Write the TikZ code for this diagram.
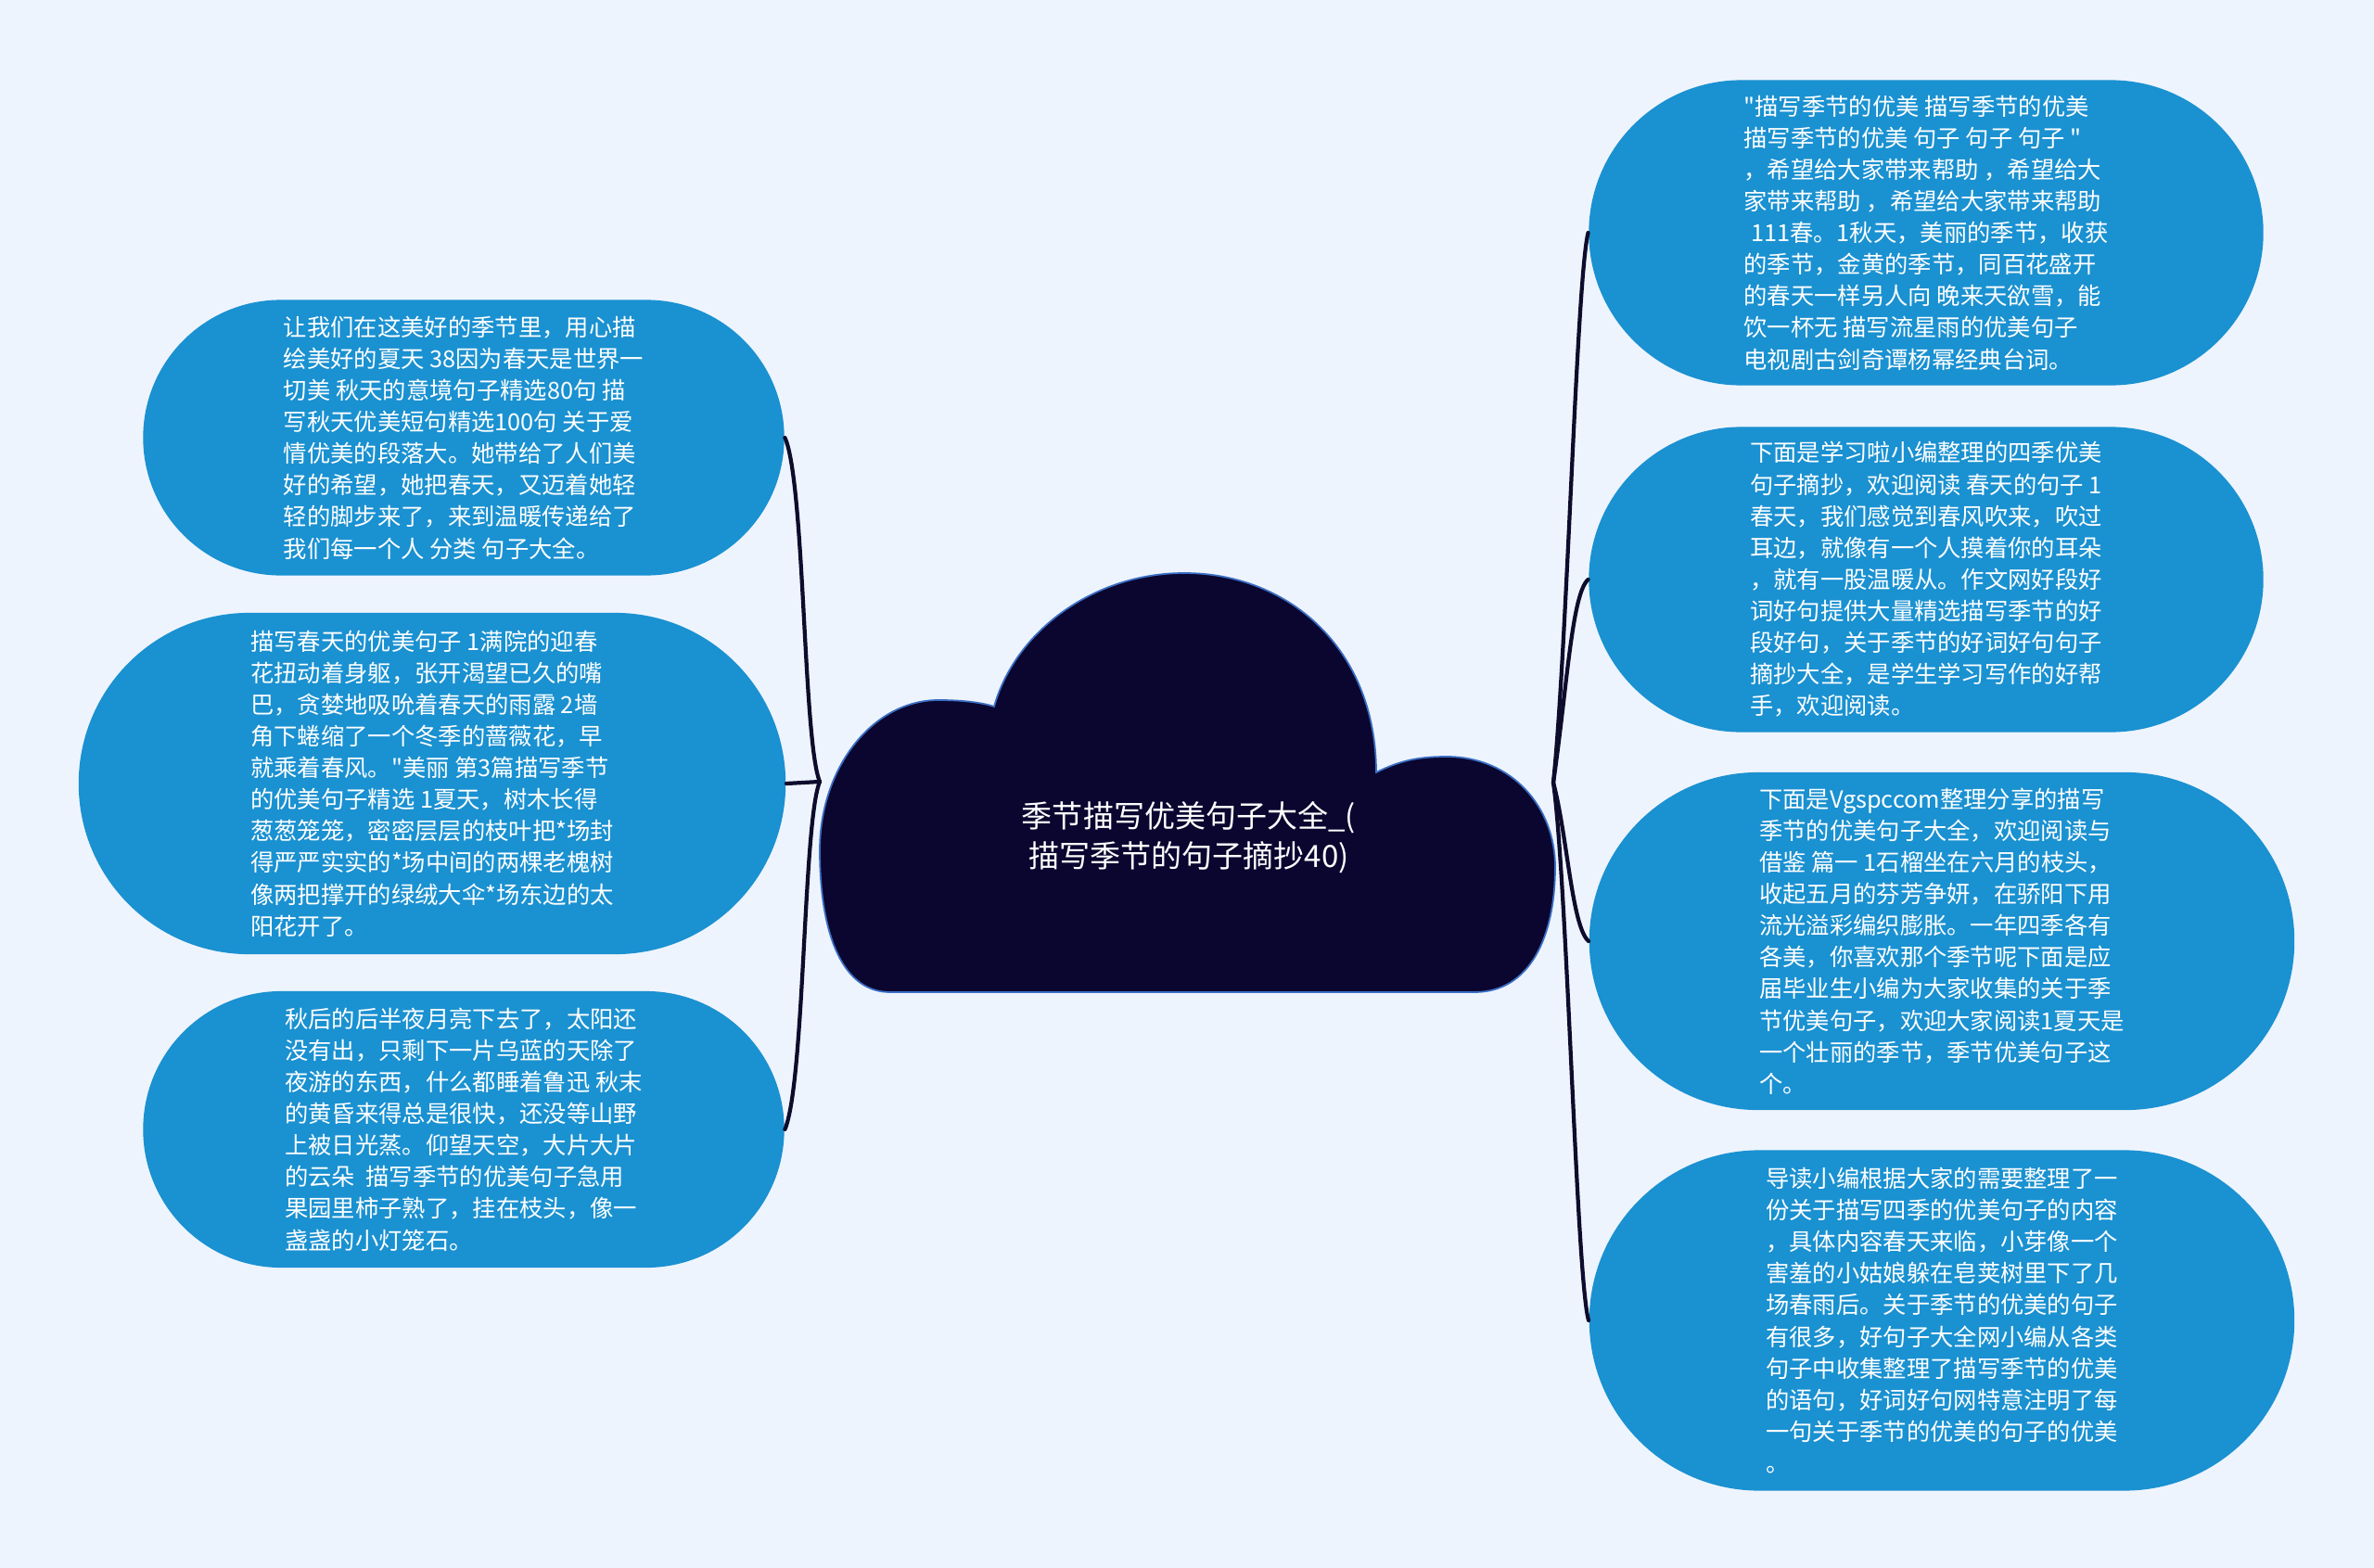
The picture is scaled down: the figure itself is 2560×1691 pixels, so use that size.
\documentclass[tikz,border=0pt]{standalone}
\usepackage{fontspec}
\newfontfamily\stcjk{Noto Sans CJK SC}
\usetikzlibrary{shapes.misc}
\definecolor{STBack}{HTML}{EEF4FD}
\definecolor{STBlue}{HTML}{1A91D1}
\definecolor{STNavy}{HTML}{0A0630}
\definecolor{STEdge}{HTML}{3B6FC4}
\definecolor{STLine}{HTML}{0D0C2C}
\tikzset{
  stleaf/.style={
    rounded rectangle,
    fill=STBlue,
    text=white,
    align=left,
    inner sep=0pt,
    font=\stcjk\fontsize{7.2pt}{9.7pt}\selectfont
  },
  stroot/.style={text=white,align=center,font=\stcjk\fontsize{9.4pt}{12.2pt}\selectfont},
  stcloud/.style={fill=STNavy,draw=STEdge,line width=0.5pt},
  stlink/.style={draw=STLine,line width=1.2pt,line cap=round},
}

\begin{document}
\begin{tikzpicture}[x=0.01cm,y=-0.01cm]
  \fill[STBack] (0,0) rectangle (2560,1691);
  \useasboundingbox (0,0) rectangle (2560,1691);

  % centre cloud
  \path[stcloud] (1100,1070) -- (960,1070)
    .. controls (905,1070) and (884,1000) .. (884,917)
    .. controls (884,828) and (941,755) .. (1012,755)
    .. controls (1040,755) and (1060,758) .. (1072,762)
    .. controls (1095,680) and (1180,618) .. (1277,618)
    .. controls (1390,618) and (1484,700) .. (1484,833)
    .. controls (1510,820) and (1530,816) .. (1560,816)
    .. controls (1630,816) and (1677,870) .. (1677,935)
    .. controls (1677,1010) and (1650,1070) .. (1590,1070) -- cycle;
  \node[stroot] (title) at (1282,903)
    {季节描写优美句子大全\_(\\描写季节的句子摘抄40)};

  % left branches
  \node[stleaf,minimum width=6.91cm,minimum height=2.97cm] (left1) at (500,472)
    {让我们在这美好的季节里，用心描\\
     绘美好的夏天 38因为春天是世界一\\
     切美 秋天的意境句子精选80句 描\\
     写秋天优美短句精选100句 关于爱\\
     情优美的段落大。她带给了人们美\\
     好的希望，她把春天，又迈着她轻\\
     轻的脚步来了，来到温暖传递给了\\
     我们每一个人 分类 句子大全。};
  \node[stleaf,minimum width=7.62cm,minimum height=3.68cm] (left2) at (466,845)
    {描写春天的优美句子 1满院的迎春\\
     花扭动着身躯，张开渴望已久的嘴\\
     巴，贪婪地吸吮着春天的雨露 2墙\\
     角下蜷缩了一个冬季的蔷薇花，早\\
     就乘着春风。"美丽 第3篇描写季节\\
     的优美句子精选 1夏天，树木长得\\
     葱葱笼笼，密密层层的枝叶把*场封\\
     得严严实实的*场中间的两棵老槐树\\
     像两把撑开的绿绒大伞*场东边的太\\
     阳花开了。};
  \node[stleaf,minimum width=6.91cm,minimum height=2.98cm] (left3) at (500,1218)
    {秋后的后半夜月亮下去了，太阳还\\
     没有出，只剩下一片乌蓝的天除了\\
     夜游的东西，什么都睡着鲁迅 秋末\\
     的黄昏来得总是很快，还没等山野\\
     上被日光蒸。仰望天空，大片大片\\
     的云朵\ \ 描写季节的优美句子急用\\
     果园里柿子熟了，挂在枝头，像一\\
     盏盏的小灯笼石。};

  % right branches
  \node[stleaf,minimum width=7.27cm,minimum height=3.29cm] (right1) at (2077,251)
    {"描写季节的优美 描写季节的优美\\
     描写季节的优美 句子 句子 句子 "\\
     ，希望给大家带来帮助 ，希望给大\\
     家带来帮助 ，希望给大家带来帮助\\
     \hspace*{0.3em}111春。1秋天，美丽的季节，收获\\
     的季节，金黄的季节，同百花盛开\\
     的春天一样另人向 晚来天欲雪，能\\
     饮一杯无 描写流星雨的优美句子\\
     电视剧古剑奇谭杨幂经典台词。};
  \node[stleaf,minimum width=7.27cm,minimum height=3.29cm] (right2) at (2077,625)
    {下面是学习啦小编整理的四季优美\\
     句子摘抄，欢迎阅读 春天的句子 1\\
     春天，我们感觉到春风吹来，吹过\\
     耳边，就像有一个人摸着你的耳朵\\
     ，就有一股温暖从。作文网好段好\\
     词好句提供大量精选描写季节的好\\
     段好句，关于季节的好词好句句子\\
     摘抄大全，是学生学习写作的好帮\\
     手，欢迎阅读。};
  \node[stleaf,minimum width=7.6cm,minimum height=3.64cm] (right3) at (2094,1015)
    {下面是Vgspccom整理分享的描写\\
     季节的优美句子大全，欢迎阅读与\\
     借鉴 篇一 1石榴坐在六月的枝头，\\
     收起五月的芬芳争妍，在骄阳下用\\
     流光溢彩编织膨胀。一年四季各有\\
     各美，你喜欢那个季节呢下面是应\\
     届毕业生小编为大家收集的关于季\\
     节优美句子，欢迎大家阅读1夏天是\\
     一个壮丽的季节，季节优美句子这\\
     个。};
  \node[stleaf,minimum width=7.6cm,minimum height=3.67cm] (right4) at (2094,1424)
    {导读小编根据大家的需要整理了一\\
     份关于描写四季的优美句子的内容\\
     ，具体内容春天来临，小芽像一个\\
     害羞的小姑娘躲在皂荚树里下了几\\
     场春雨后。关于季节的优美的句子\\
     有很多，好句子大全网小编从各类\\
     句子中收集整理了描写季节的优美\\
     的语句，好词好句网特意注明了每\\
     一句关于季节的优美的句子的优美\\
     。};

  % connectors
  \coordinate (ljoin) at (884,843);
  \coordinate (rjoin) at (1675,844);
  \draw[stlink] (ljoin) .. controls (866,800) and (868,520) .. (left1.east);
  \draw[stlink] (ljoin) -- (left2.east);
  \draw[stlink] (ljoin) .. controls (866,886) and (868,1166) .. (left3.east);
  \draw[stlink] (rjoin) .. controls (1690,700) and (1700,300) .. (right1.west);
  \draw[stlink] (rjoin) .. controls (1690,740) and (1695,640) .. (right2.west);
  \draw[stlink] (rjoin) .. controls (1690,900) and (1695,1000) .. (right3.west);
  \draw[stlink] (rjoin) .. controls (1690,950) and (1700,1380) .. (right4.west);
\end{tikzpicture}
\end{document}
